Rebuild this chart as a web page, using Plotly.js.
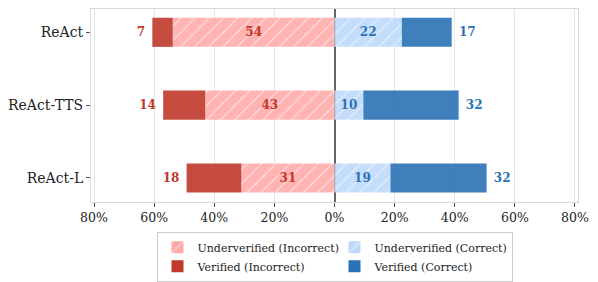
<!DOCTYPE html>
<html>
<head>
<meta charset="utf-8">
<script src="https://cdn.plot.ly/plotly-3.0.1.min.js"></script>
<style>html,body{margin:0;padding:0;background:#fff;}#chart{width:598px;height:282px;}</style>
</head>
<body>
<div id="chart"></div>
<script>
const categories = ["ReAct", "ReAct-TTS", "ReAct-L"];
const underIncorrect = [53.8, 43, 31];
const verifiedIncorrect = [6.8, 14, 18.2];
const underCorrect = [22.4, 9.6, 18.6];
const verifiedCorrect = [16.6, 31.7, 32];
const underIncorrectLabels = ["54", "43", "31"];
const verifiedIncorrectLabels = ["7", "14", "18"];
const underCorrectLabels = ["22", "10", "19"];
const verifiedCorrectLabels = ["17", "32", "32"];
const xTickVals = [-80, -60, -40, -20, 0, 20, 40, 60, 80];
const xTickText = ["80%", "60%", "40%", "20%", "0%", "20%", "40%", "60%", "80%"];

const RED = "#c0392b", BLUE = "#2a72b5";
const font = "DejaVu Serif";
const NB = "\u00a0";
const labelFont = (c) => ({family: font, size: 12, color: c, weight: "bold"});
const hatch = {shape: "/", fillmode: "overlay", fgcolor: "white", fgopacity: 0.55, size: 10, solidity: 0.12};

const traces = [
  {name: "Underverified (Incorrect)", x: underIncorrect.map(v => -v), text: underIncorrectLabels,
   color: "#ffaaaa", pattern: hatch, tc: RED, pos: "inside"},
  {name: "Underverified (Correct)", x: underCorrect, text: underCorrectLabels,
   color: "#bdd9f9", pattern: hatch, tc: BLUE, pos: "inside"},
  {name: "Verified (Incorrect)", x: verifiedIncorrect.map(v => -v), text: verifiedIncorrectLabels.map(s => s + NB),
   color: RED, pattern: null, tc: RED, pos: "outside"},
  {name: "Verified (Correct)", x: verifiedCorrect, text: verifiedCorrectLabels.map(s => NB + s),
   color: BLUE, pattern: null, tc: BLUE, pos: "outside"}
].map(t => {
  const m = {color: t.color, opacity: 0.9, line: {width: 0}};
  if (t.pattern) m.pattern = t.pattern;
  return {
    type: "bar", orientation: "h", name: t.name, y: categories, x: t.x,
    text: t.text, textposition: t.pos, insidetextanchor: "middle",
    textfont: labelFont(t.tc), insidetextfont: labelFont(t.tc), outsidetextfont: labelFont(t.tc),
    constraintext: "none", cliponaxis: false, width: 0.4, marker: m, hoverinfo: "skip"
  };
});

const layout = {
  width: 598, height: 282,
  margin: {l: 91, r: 20, t: 9, b: 80},
  paper_bgcolor: "#fff", plot_bgcolor: "#fff",
  barmode: "relative",
  font: {family: font, size: 13, color: "#222"},
  showlegend: true,
  legend: {
    orientation: "h", x: 0.5, xanchor: "center", yref: "container", y: 0.178, yanchor: "top",
    font: {family: font, size: 11, color: "#222"},
    bordercolor: "#cccccc", borderwidth: 1, entrywidth: 132, entrywidthmode: "pixels",
    traceorder: "normal", itemwidth: 30, tracegroupgap: 0
  },
  xaxis: {
    range: [-81, 81], tickvals: xTickVals, ticktext: xTickText,
    showgrid: true, gridcolor: "#e6e6e6", gridwidth: 1,
    zeroline: true, zerolinecolor: "#666", zerolinewidth: 2,
    showline: true, mirror: true, linecolor: "#d9d9d9", linewidth: 1,
    ticks: "outside", ticklen: 4, tickcolor: "#555",
    tickfont: {family: font, size: 12.5, color: "#222"}, fixedrange: true
  },
  yaxis: {
    type: "category", categoryarray: categories, range: [2.33, -0.32],
    showgrid: false, zeroline: false,
    showline: true, mirror: true, linecolor: "#d9d9d9", linewidth: 1,
    ticks: "outside", ticklen: 4, tickcolor: "#555",
    tickfont: {family: font, size: 14, color: "#222"}, fixedrange: true
  }
};

Plotly.newPlot("chart", traces, layout, {displayModeBar: false, staticPlot: true});
</script>
</body>
</html>
